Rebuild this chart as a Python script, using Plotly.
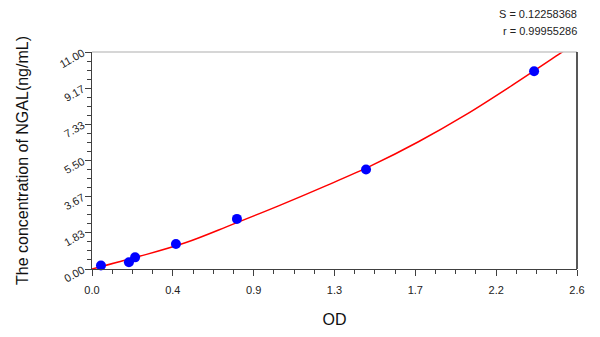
import plotly.graph_objects as go

# Measured standard points
od_points = [0.048, 0.198, 0.231, 0.45, 0.777, 1.469, 2.37]
conc_points = [0.18, 0.34, 0.59, 1.27, 2.54, 5.04, 10.02]

# Fitted curve
curve_od = [0.0, 0.25, 0.5, 0.75, 1.0, 1.25, 1.5, 1.75, 2.0, 2.25, 2.5, 2.6]
curve_conc = [0.0, 0.63, 1.33, 2.25, 3.2, 4.2, 5.25, 6.45, 7.8, 9.3, 10.87, 11.5]

x_tickvals = [0.0, 2.6 / 6, 2 * 2.6 / 6, 3 * 2.6 / 6, 4 * 2.6 / 6, 5 * 2.6 / 6, 2.6]
x_ticktext = ["0.0", "0.4", "0.9", "1.3", "1.7", "2.2", "2.6"]
y_tickvals = [0.0, 11 / 6, 2 * 11 / 6, 3 * 11 / 6, 4 * 11 / 6, 5 * 11 / 6, 11.0]
y_ticktext = ["0.00", "1.83", "3.67", "5.50", "7.33", "9.17", "11.00"]

stats_text = ["S = 0.12258368", "r = 0.99955286"]

FONT = "Arial, 'Liberation Sans', sans-serif"

fig = go.Figure()
fig.add_trace(go.Scatter(
    x=curve_od, y=curve_conc, mode="lines",
    line=dict(color="#ff0000", width=1.5, shape="spline"),
    showlegend=False, hoverinfo="skip"))
fig.add_trace(go.Scatter(
    x=od_points, y=conc_points, mode="markers",
    marker=dict(color="#0000ff", size=10, line=dict(width=0)),
    showlegend=False, cliponaxis=False))

fig.update_layout(
    width=600, height=337,
    margin=dict(l=92, r=23, t=52, b=60),
    paper_bgcolor="white", plot_bgcolor="white",
    font=dict(family=FONT, color="#222222"),
    xaxis=dict(
        range=[0, 2.6], tickmode="array", tickvals=x_tickvals, ticktext=x_ticktext,
        showgrid=False, zeroline=False, showline=True, linecolor="#404040", linewidth=1,
        ticks="outside", ticklen=6, tickcolor="#404040", tickwidth=1,
        ticklabelstandoff=5,
        tickfont=dict(size=11, color="#222222"),
        minor=dict(tickmode="linear", tick0=0, dtick=2.6 / 24, ticks="outside",
                   ticklen=4, tickcolor="#404040", showgrid=False),
        title=dict(text="OD", font=dict(size=16, color="#111111"), standoff=18),
    ),
    yaxis=dict(
        range=[0, 11], tickmode="array", tickvals=y_tickvals, ticktext=y_ticktext,
        showgrid=False, zeroline=False, showline=True, linecolor="#404040", linewidth=1,
        ticks="outside", ticklen=6, tickcolor="#404040", tickwidth=1,
        tickangle=-30,
        tickfont=dict(size=11, color="#222222"),
        minor=dict(tickmode="linear", tick0=0, dtick=11 / 24, ticks="outside",
                   ticklen=4, tickcolor="#404040", showgrid=False),
        title=dict(text="The concentration of NGAL(ng/mL)",
                   font=dict(size=16, color="#111111"), standoff=24),
    ),
    shapes=[
        dict(type="line", xref="x domain", yref="y domain", x0=0, x1=1, y0=1, y1=1,
             line=dict(color="#c8c8c8", width=1.5)),
        dict(type="line", xref="x domain", yref="y domain", x0=1, x1=1, y0=0, y1=1,
             line=dict(color="#202020", width=1.5)),
    ],
    annotations=[
        dict(text=stats_text[0], xref="paper", yref="paper", x=1.0, y=1.0,
             xanchor="right", yanchor="middle", yshift=38, xshift=2, showarrow=False,
             font=dict(size=11, color="#222222")),
        dict(text=stats_text[1], xref="paper", yref="paper", x=1.0, y=1.0,
             xanchor="right", yanchor="middle", yshift=21, xshift=2, showarrow=False,
             font=dict(size=11, color="#222222")),
    ],
)

fig.write_html("out.html")
